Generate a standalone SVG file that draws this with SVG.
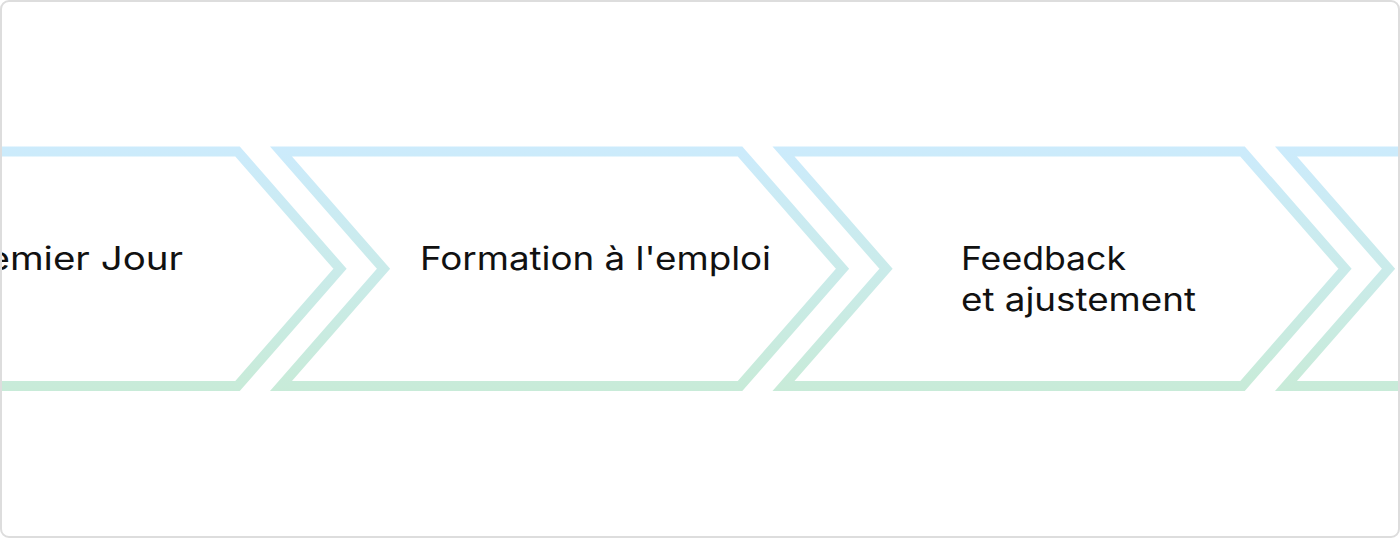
<svg xmlns="http://www.w3.org/2000/svg" width="1400" height="538" viewBox="0 0 1400 538">
  <defs>
    <linearGradient id="chevGrad" gradientUnits="userSpaceOnUse" x1="0" y1="146" x2="0" y2="392">
      <stop offset="0" stop-color="#CCEBFC"/>
      <stop offset="1" stop-color="#C8EBD8"/>
    </linearGradient>
    <clipPath id="frameClip">
      <rect x="2" y="2" width="1396" height="534" rx="7" ry="7"/>
    </clipPath>
  </defs>
  <style>
    .chev { fill: none; stroke: url(#chevGrad); stroke-width: 10; stroke-linejoin: miter; stroke-miterlimit: 10; }
    .label { font-family: "Inter", "Noto Sans", "DejaVu Sans", sans-serif; font-size: 32px; fill: #111111; }
  </style>
  <rect x="1" y="1" width="1398" height="536" rx="8" ry="8" fill="#ffffff" stroke="#dddddd" stroke-width="2"/>
  <g clip-path="url(#frameClip)">
    <g id="connectors"></g>
    <g id="node-premier-jour">
      <path class="chev" d="M -221.5 151.5 H 237.5 L 340 268.75 L 237.5 386 H -221.5 L -119 268.75 Z"/>
      <text class="label" x="183" y="270" text-anchor="end" textLength="234" lengthAdjust="spacingAndGlyphs">Premier Jour</text>
    </g>
    <g id="node-formation">
      <path class="chev" d="M 281 151.5 H 740 L 842.5 268.75 L 740 386 H 281 L 383.5 268.75 Z"/>
      <text class="label" x="420" y="270" textLength="351" lengthAdjust="spacingAndGlyphs">Formation à l'emploi</text>
    </g>
    <g id="node-feedback">
      <path class="chev" d="M 783.5 151.5 H 1242.5 L 1345 268.75 L 1242.5 386 H 783.5 L 886 268.75 Z"/>
      <text class="label" x="961" y="270" textLength="165" lengthAdjust="spacingAndGlyphs">Feedback</text>
      <text class="label" x="961" y="311" textLength="235" lengthAdjust="spacingAndGlyphs">et ajustement</text>
    </g>
    <g id="node-next">
      <path class="chev" d="M 1286 151.5 H 1745 L 1847.5 268.75 L 1745 386 H 1286 L 1388.5 268.75 Z"/>
    </g>
  </g>
</svg>
